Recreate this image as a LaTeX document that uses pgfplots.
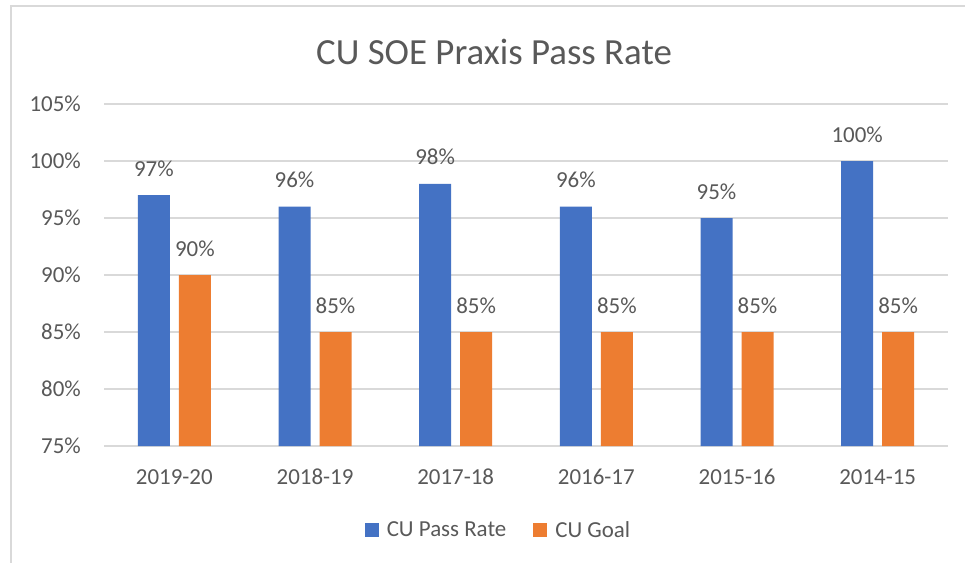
\documentclass[border=0pt]{standalone}
\usepackage{pgfplots}
\pgfplotsset{compat=1.18}
\usepackage{fontspec}
\setmainfont{Carlito}
\definecolor{cublue}{HTML}{4472C4}
\definecolor{cuorange}{HTML}{ED7D31}
\definecolor{txtgray}{HTML}{595959}
\definecolor{gridgray}{HTML}{D9D9D9}
\begin{document}
\begin{tikzpicture}
\useasboundingbox (0,0) rectangle (965bp,-563bp);
\fill[white] (0,0) rectangle (965bp,-563bp);
\draw[gridgray, line width=1.5bp] (11bp,-563bp) -- (11bp,-6bp) -- (965bp,-6bp);
\node[text=txtgray, font=\fontsize{37}{44}\selectfont] at (494bp,-52bp) {CU SOE Praxis Pass Rate};
\begin{axis}[
  at={(104bp,-446bp)}, anchor=south west,
  scale only axis, width=844bp, height=342bp,
  ybar=9bp, bar width=32bp,
  xmin=-0.5, xmax=5.5, ymin=75, ymax=105,
  xtick={0,1,2,3,4,5},
  xticklabels={2019-20,2018-19,2017-18,2016-17,2015-16,2014-15},
  ytick={75,80,85,90,95,100,105},
  yticklabel={\pgfmathprintnumber{\tick}\%},
  /pgf/number format/assume math mode=true,
  axis x line*=bottom, axis y line*=left,
  x axis line style={gridgray, line width=1.5bp, -},
  y axis line style={draw=none},
  ymajorgrids, major grid style={gridgray, line width=1.5bp},
  major tick length=0pt,
  tick style={draw=none},
  ticklabel style={text=txtgray, font=\fontsize{23}{28}\selectfont, inner sep=0pt},
  xticklabel style={anchor=base, yshift=-38bp},
  yticklabel style={anchor=east, xshift=-23bp},
  nodes near coords={\pgfmathprintnumber{\pgfplotspointmeta}\%},
  every node near coord/.append style={anchor=base, yshift=19bp, text=txtgray, font=\fontsize{23}{28}\selectfont, inner sep=0pt},
  legend columns=2,
  legend style={at={(0.4674,-0.2456)}, anchor=center, draw=none, fill=none, inner sep=0pt,
    font=\fontsize{23}{28}\selectfont, text=txtgray,
    /tikz/every odd column/.append style={column sep=6bp},
    /tikz/every even column/.append style={column sep=25bp}},
  legend image code/.code={\fill[#1, draw=none] (0bp,-7bp) rectangle (14bp,7bp);},
  clip=true,
]
\addplot[fill=cublue, draw=none] coordinates {(0,97) (1,96) (2,98) (3,96) (4,95) (5,100)};
\addplot[fill=cuorange, draw=none] coordinates {(0,90) (1,85) (2,85) (3,85) (4,85) (5,85)};
\legend{CU Pass Rate, CU Goal}
\end{axis}
\end{tikzpicture}
\end{document}
